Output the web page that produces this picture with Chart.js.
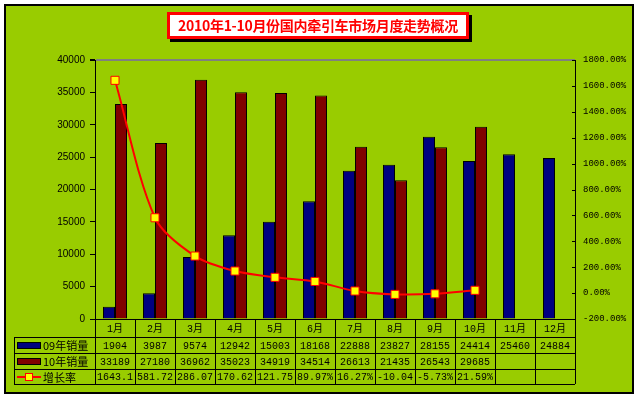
<!DOCTYPE html>
<html>
<head>
<meta charset="utf-8">
<script src="https://cdn.jsdelivr.net/npm/chart.js@4.4.0/dist/chart.umd.min.js"></script>
<style>
  body { margin:0; background:#fff; }
  #wrap { position:relative; width:639px; height:399px; }
  #titulo {
    position:absolute; left:167px; top:12px; width:302px; height:27px;
    box-sizing:border-box; border:3px solid #ff0000; background:#fff;
    box-shadow:3px 3px 0 #000;
    color:#ff0000; font:bold 14px "Noto Sans CJK SC", sans-serif;
    text-align:center; line-height:21px; white-space:nowrap; letter-spacing:-0.3px;
  }
</style>
</head>
<body>
<div id="wrap">
  <canvas id="grafico" width="639" height="399"></canvas>
  <div id="titulo">2010年1-10月份国内牵引车市场月度走势概况</div>
</div>
<script>
// datos
const meses = ['1月','2月','3月','4月','5月','6月','7月','8月','9月','10月','11月','12月'];
const ventas09 = [1904, 3987, 9574, 12942, 15003, 18168, 22888, 23827, 28155, 24414, 25460, 24884];
const ventas10 = [33189, 27180, 36962, 35023, 34919, 34514, 26613, 21435, 26543, 29685, null, null];
const crecimiento = [1643.1, 581.72, 286.07, 170.62, 121.75, 89.97, 16.27, -10.04, -5.73, 21.59, null, null];
const crecimientoTxt = ['1643.1','581.72','286.07','170.62','121.75','89.97%','16.27%','-10.04','-5.73%','21.59%','',''];
const nombres = ['09年销量','10年销量','增长率'];

const VERDE = '#99cc00';
const AZUL = '#000080';
const ROJO = '#800000';
const filas = [18, 16, 16, 15]; // alturas de filas de la tabla
const tablaIzq = 14;

// fondo del area del grafico
const fondo = {
  id:'fondo',
  beforeDraw(chart){
    const ctx = chart.ctx;
    ctx.save();
    ctx.fillStyle = VERDE;
    ctx.fillRect(4, 4, 630, 390);
    ctx.strokeStyle = '#000';
    ctx.lineWidth = 2;
    ctx.strokeRect(5, 5, 628, 388);
    ctx.restore();
  }
};

// tabla de datos debajo del eje x + ticks internos del eje derecho
const tabla = {
  id:'tabla',
  afterDraw(chart){
    const ctx = chart.ctx;
    const x = chart.scales.x;
    const y1 = chart.scales.y1;
    const area = chart.chartArea;
    const ancho = (area.right - area.left) / meses.length;
    const ys = [area.bottom];
    filas.forEach(h => ys.push(ys[ys.length-1] + h));

    ctx.save();
    ctx.strokeStyle = '#000';
    ctx.lineWidth = 1;

    // ticks hacia dentro del eje derecho
    y1.ticks.forEach(t => {
      const py = Math.round(y1.getPixelForValue(t.value)) + 0.5;
      ctx.beginPath(); ctx.moveTo(area.right - 3, py); ctx.lineTo(area.right, py); ctx.stroke();
    });

    // lineas horizontales
    ys.forEach((yy, i) => {
      const py = Math.round(yy) + 0.5;
      ctx.beginPath();
      ctx.moveTo(i === 0 ? area.left : tablaIzq, py);
      ctx.lineTo(area.right, py);
      ctx.stroke();
    });
    // lineas verticales
    ctx.beginPath();
    ctx.moveTo(tablaIzq + 0.5, ys[1]); ctx.lineTo(tablaIzq + 0.5, ys[4]);
    for (let i = 0; i <= meses.length; i++){
      const px = Math.round(area.left + i * ancho) + 0.5;
      ctx.moveTo(px, ys[0]); ctx.lineTo(px, ys[4]);
    }
    ctx.stroke();

    ctx.fillStyle = '#000';
    ctx.textAlign = 'center';
    ctx.textBaseline = 'middle';
    ctx.font = '10px "Liberation Mono", "Noto Sans CJK SC", monospace';
    const filasTxt = [meses, ventas09.map(v => v == null ? '' : String(v)),
                      ventas10.map(v => v == null ? '' : String(v)), crecimientoTxt];
    filasTxt.forEach((fila, r) => {
      const cy = (ys[r] + ys[r+1]) / 2 + 1;
      fila.forEach((t, i) => {
        ctx.fillText(t, x.getPixelForValue(i), cy);
      });
    });

    // leyenda dentro de la tabla
    ctx.textAlign = 'left';
    ctx.font = '11px "Noto Sans CJK SC", sans-serif';
    const colores = [AZUL, ROJO];
    for (let r = 0; r < 3; r++){
      const cy = (ys[r+1] + ys[r+2]) / 2;
      if (r < 2){
        ctx.fillStyle = colores[r];
        ctx.fillRect(17, Math.round(cy) - 3, 24, 7);
        ctx.strokeRect(17.5, Math.round(cy) - 2.5, 23, 6);
      } else {
        ctx.strokeStyle = '#ff0000';
        ctx.lineWidth = 2;
        ctx.beginPath(); ctx.moveTo(17, Math.round(cy)); ctx.lineTo(41, Math.round(cy)); ctx.stroke();
        ctx.lineWidth = 1;
        ctx.fillStyle = '#ffff00';
        ctx.fillRect(25, Math.round(cy) - 4, 8, 8);
        ctx.strokeRect(25.5, Math.round(cy) - 3.5, 7, 7);
        ctx.strokeStyle = '#000';
      }
      ctx.fillStyle = '#000';
      ctx.fillText(nombres[r], 43, cy + 1);
    }
    ctx.restore();
  }
};

const ctx = document.getElementById('grafico').getContext('2d');
const chart = new Chart(ctx, {
  type: 'bar',
  data: {
    labels: meses,
    datasets: [
      { label: nombres[0], data: ventas09, yAxisID: 'y', order: 1,
        backgroundColor: AZUL, borderColor: '#000', borderWidth: 1 },
      { label: nombres[1], data: ventas10, yAxisID: 'y', order: 2,
        backgroundColor: ROJO, borderColor: '#000', borderWidth: 1 },
      { label: nombres[2], type: 'line', data: crecimiento, yAxisID: 'y1', order: 0,
        borderColor: '#ff0000', borderWidth: 2, tension: 0.3,
        pointStyle: 'rect', pointRadius: 5.7, pointBackgroundColor: '#ffff00',
        pointBorderColor: '#ff0000', pointBorderWidth: 1, spanGaps: false }
    ]
  },
  options: {
    responsive: false,
    animation: false,
    categoryPercentage: 0.6,
    barPercentage: 1.0,
    layout: { padding: { left: 0, right: 0, top: 60, bottom: 80 } },
    plugins: { legend: { display: false }, tooltip: { enabled: false } },
    scales: {
      x: { display: false, offset: true, grid: { display: false } },
      y: {
        position: 'left', min: 0, max: 40000,
        afterFit(s){ s.width = 95; },
        border: { color: '#000', width: 1 },
        grid: {
          color: c => c.tick && c.tick.value === 40000 ? '#808080' : 'rgba(0,0,0,0)',
          lineWidth: c => c.tick && c.tick.value === 40000 ? 2 : 1,
          tickColor: '#000', tickLength: 5
        },
        ticks: { stepSize: 5000, color: '#000', padding: 5,
                 callback: v => String(v),
                 font: { family: '"Liberation Sans", Arial, sans-serif', size: 10 } }
      },
      y1: {
        position: 'right', min: -200, max: 1800,
        afterFit(s){ s.width = 64; },
        border: { color: '#000', width: 1 },
        grid: { drawOnChartArea: false, drawTicks: false },
        ticks: { stepSize: 200, color: '#000', padding: 8,
                 callback: v => v.toFixed(2) + '%',
                 font: { family: '"Liberation Mono", monospace', size: 9 } }
      }
    }
  },
  plugins: [fondo, tabla]
});
</script>
</body>
</html>
